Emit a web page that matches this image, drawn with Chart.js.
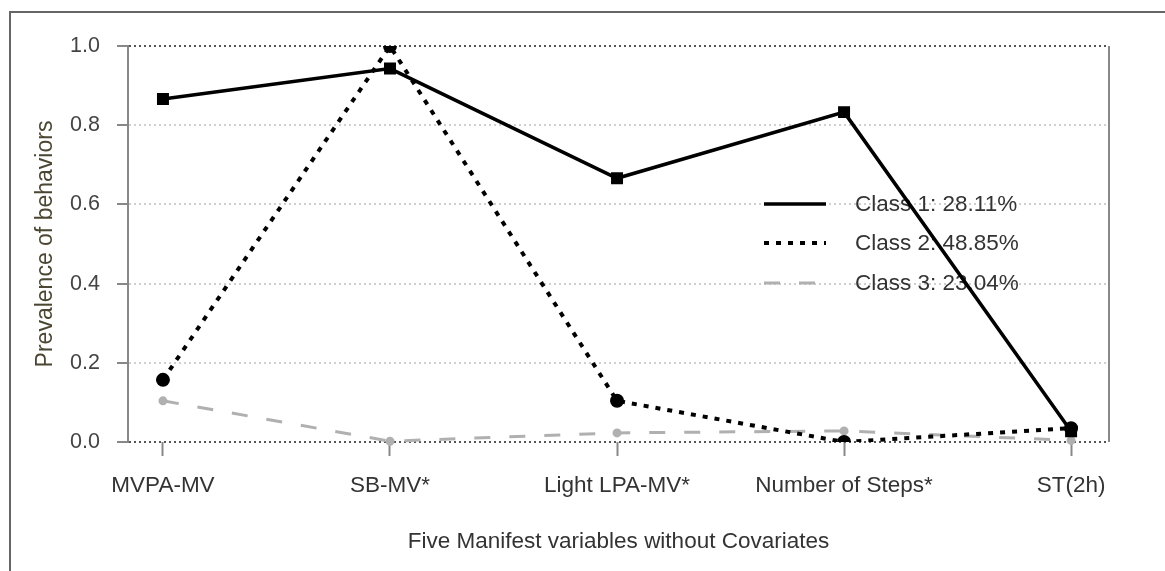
<!DOCTYPE html>
<html>
<head>
<meta charset="utf-8">
<script src="https://cdn.jsdelivr.net/npm/chart.js@4"></script>
<style>
  html, body { margin: 0; padding: 0; background: #fff; }
  #wrap { width: 1165px; height: 571px; }
</style>
</head>
<body>
<div id="wrap"><canvas id="myChart" width="1165" height="571"></canvas></div>
<script>
var categories = ["MVPA-MV", "SB-MV*", "Light LPA-MV*", "Number of Steps*", "ST(2h)"];
var class1 = [0.866, 0.943, 0.666, 0.833, 0.027];
var class2 = [0.157, 1.0, 0.104, 0.0, 0.035];
var class3 = [0.104, 0.002, 0.023, 0.028, 0.004];
var seriesNames = ["Class 1: 28.11%", "Class 2: 48.85%", "Class 3: 23.04%"];
var yTicks = [0, 0.2, 0.4, 0.6, 0.8, 1.0];

var FONT = "'Liberation Sans', Arial, sans-serif";

function points(arr) {
  return arr.map(function (v, i) { return { x: i, y: v }; });
}

// outer frame + right side of the plot box
var framePlugin = {
  id: "frame",
  beforeDraw: function (chart) {
    var c = chart.ctx;
    c.save();
    c.fillStyle = "#fff";
    c.fillRect(0, 0, chart.width, chart.height);
    c.strokeStyle = "#666";
    c.lineWidth = 2;
    c.beginPath();
    c.moveTo(10, chart.height);
    c.lineTo(10, 12);
    c.lineTo(chart.width, 12);
    c.stroke();
    c.restore();
  },
  afterDraw: function (chart) {
    var a = chart.chartArea, c = chart.ctx;
    c.save();
    c.strokeStyle = "#888";
    c.lineWidth = 2;
    c.beginPath();
    c.moveTo(a.right, a.top);
    c.lineTo(a.right, a.bottom);
    c.stroke();
    c.restore();
  }
};

// legend inside the plot, under the lines
var legendPlugin = {
  id: "innerLegend",
  beforeDatasetsDraw: function (chart) {
    var c = chart.ctx;
    var rows = [204, 243, 283];
    c.save();
    chart.data.datasets.forEach(function (ds, i) {
      var y = rows[i];
      c.strokeStyle = ds.borderColor;
      c.lineWidth = ds.borderWidth;
      c.setLineDash(ds.borderDash || []);
      c.beginPath();
      c.moveTo(764, y);
      c.lineTo(826, y);
      c.stroke();
      c.setLineDash([]);
      c.fillStyle = "#333";
      c.font = "22.5px " + FONT;
      c.textBaseline = "middle";
      c.textAlign = "left";
      c.fillText(ds.label, 855, y + 1);
    });
    c.restore();
  }
};

new Chart("myChart", {
  type: "line",
  data: {
    datasets: [{
      label: seriesNames[0],
      data: points(class1),
      borderColor: "#000",
      backgroundColor: "#000",
      borderWidth: 3.5,
      pointStyle: "rect",
      pointRadius: 6,
      clip: false,
      fill: false
    }, {
      label: seriesNames[1],
      data: points(class2),
      borderColor: "#000",
      backgroundColor: "#000",
      borderWidth: 4,
      borderDash: [5, 7],
      pointRadius: 5,
      clip: 0,
      fill: false
    }, {
      label: seriesNames[2],
      data: points(class3),
      borderColor: "#b0b0b0",
      backgroundColor: "#b0b0b0",
      borderWidth: 3,
      borderDash: [16, 19],
      pointRadius: 3,
      clip: false,
      fill: false
    }]
  },
  options: {
    responsive: false,
    animation: false,
    layout: { padding: { left: 0, top: 46, right: 56, bottom: 0 } },
    plugins: {
      legend: { display: false },
      tooltip: { enabled: false }
    },
    scales: {
      x: {
        type: "linear",
        min: -0.154,
        max: 4.167,
        afterBuildTicks: function (s) {
          s.ticks = categories.map(function (c, i) { return { value: i }; });
        },
        afterFit: function (s) { s.height = 129; },
        border: { display: false },
        grid: {
          drawOnChartArea: false,
          drawTicks: true,
          tickLength: 14,
          tickColor: "#888",
          tickWidth: 2
        },
        ticks: {
          padding: 16,
          color: "#333",
          font: { family: FONT, size: 22.5 },
          maxRotation: 0,
          autoSkip: false,
          callback: function (v) { return categories[v]; }
        },
        title: {
          display: true,
          text: "Five Manifest variables without Covariates",
          color: "#333",
          font: { family: FONT, size: 22.5 },
          padding: { top: 0, bottom: 16 }
        }
      },
      y: {
        min: 0,
        max: 1,
        afterBuildTicks: function (s) {
          s.ticks = yTicks.map(function (v) { return { value: v }; });
        },
        afterFit: function (s) { s.width = 128; },
        border: { display: true, color: "#888", width: 2, dash: [2, 3] },
        grid: {
          color: function (ctx) {
            var v = ctx.tick ? ctx.tick.value : 0;
            return (v === 0 || v === 1) ? "#555" : "#cfcfcf";
          },
          lineWidth: 2,
          tickBorderDash: [],
          tickLength: 11,
          tickColor: "#888",
          tickWidth: 2
        },
        ticks: {
          padding: 17,
          color: "#444",
          font: { family: FONT, size: 21.5 },
          callback: function (v) { return v.toFixed(1); }
        },
        title: {
          display: true,
          text: "Prevalence of behaviors",
          color: "#4b4631",
          font: { family: FONT, size: 23 },
          padding: { top: 32, bottom: 0 }
        }
      }
    }
  },
  plugins: [framePlugin, legendPlugin]
});
</script>
</body>
</html>
